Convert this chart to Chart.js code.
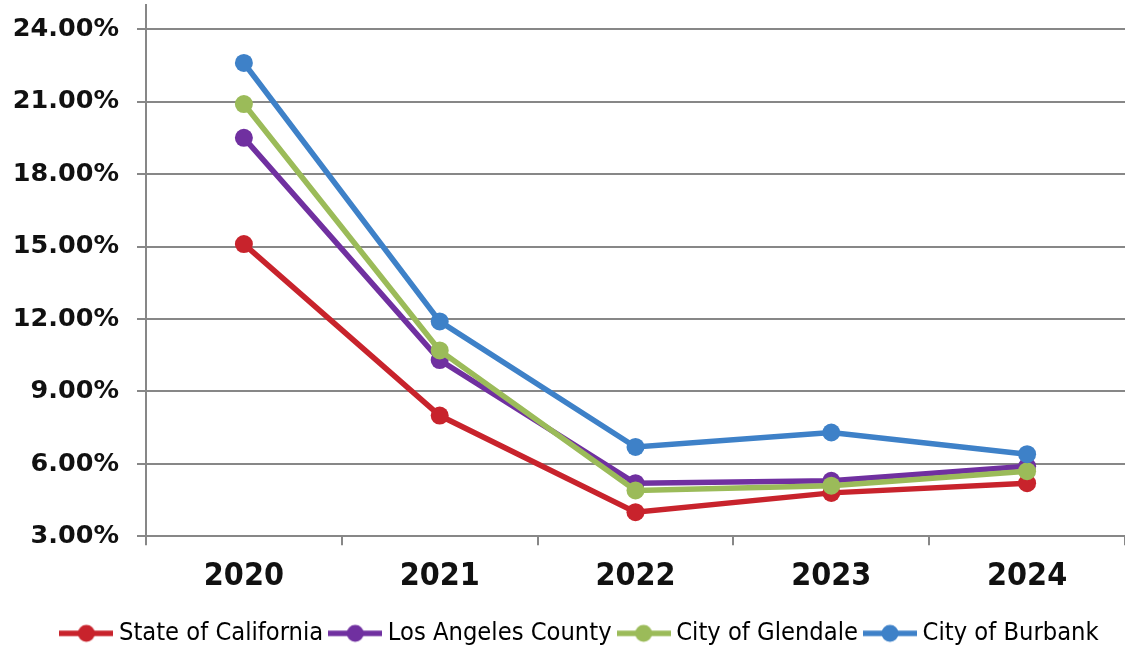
<!DOCTYPE html>
<html>
<head>
<meta charset="utf-8">
<script src="https://cdn.jsdelivr.net/npm/chart.js@4"></script>
<style>
  html, body { margin: 0; padding: 0; background: #fff; }
  #wrap { width: 1125px; height: 647px; }
</style>
</head>
<body>
<div id="wrap"><canvas id="grafico" width="1125" height="647"></canvas></div>
<script>
// Dados
const anos = ['2020', '2021', '2022', '2023', '2024'];
const series = ['State of California', 'Los Angeles County', 'City of Glendale', 'City of Burbank'];
const california = [15.1, 8.0, 4.0, 4.8, 5.2];
const losAngeles = [19.5, 10.3, 5.2, 5.3, 5.9];
const glendale = [20.9, 10.7, 4.9, 5.1, 5.7];
const burbank = [22.6, 11.9, 6.7, 7.3, 6.4];
const ticksY = [3, 6, 9, 12, 15, 18, 21, 24];

const cores = ['#C8232C', '#7030A0', '#9BBB59', '#3E81C8'];
const valores = [california, losAngeles, glendale, burbank];
const cinza = '#878787';

// Ícone da legenda: linha com marcador
function iconeLegenda(cor) {
  const c = document.createElement('canvas');
  c.width = 54;
  c.height = 20;
  const g = c.getContext('2d');
  g.strokeStyle = cor;
  g.lineWidth = 5.5;
  g.beginPath();
  g.moveTo(0, 10);
  g.lineTo(54, 10);
  g.stroke();
  g.fillStyle = cor;
  g.beginPath();
  g.arc(27, 10, 8.5, 0, Math.PI * 2);
  g.fill();
  return c;
}
const icones = cores.map(iconeLegenda);

// Ajusta a posição da legenda, como no original
const moverLegenda = {
  id: 'moverLegenda',
  afterLayout(chart) {
    chart.legend.left += 20;
    chart.legend.right += 20;
    chart.legend.top += 9;
    chart.legend.bottom += 9;
  }
};

const ctx = document.getElementById('grafico').getContext('2d');

new Chart(ctx, {
  type: 'line',
  data: {
    labels: anos,
    datasets: series.map((nome, i) => ({
      label: nome,
      data: valores[i],
      borderColor: cores[i],
      backgroundColor: cores[i],
      borderWidth: 5.5,
      pointRadius: 9,
      pointHoverRadius: 9,
      pointBorderWidth: 0,
      tension: 0,
      order: series.length - i
    }))
  },
  options: {
    responsive: false,
    animation: false,
    layout: { autoPadding: false, padding: { left: 0, right: 0, top: 5, bottom: 0 } },
    scales: {
      x: {
        offset: true,
        afterFit: scale => {
          scale.paddingLeft = 0;
          scale.paddingRight = 0;
          scale.height -= 8;
        },
        grid: {
          offset: true,
          drawOnChartArea: false,
          color: cinza,
          lineWidth: 2,
          tickLength: 9
        },
        border: { color: cinza, width: 2 },
        ticks: {
          color: '#111',
          padding: 12,
          font: { family: "'DejaVu Sans Condensed'", size: 32, weight: 'bold' }
        }
      },
      y: {
        min: 3,
        max: 25,
        afterBuildTicks: scale => {
          scale.ticks = ticksY.map(v => ({ value: v }));
        },
        afterFit: scale => {
          scale.width = 146;
          scale.paddingTop = 0;
          scale.paddingBottom = 0;
        },
        grid: { color: cinza, lineWidth: 2, tickLength: 9 },
        border: { color: cinza, width: 2 },
        ticks: {
          color: '#111',
          padding: 18,
          font: { family: "'DejaVu Sans'", size: 25.5, weight: 'bold' },
          callback: v => v.toFixed(2) + '%'
        }
      }
    },
    plugins: {
      legend: {
        position: 'bottom',
        labels: {
          usePointStyle: true,
          pointStyleWidth: 40,
          padding: 12,
          color: '#1a1a1a',
          font: { family: "'DejaVu Sans Condensed'", size: 25.25 },
          generateLabels: chart => chart.data.datasets.map((ds, i) => ({
            text: ds.label,
            pointStyle: icones[i],
            fillStyle: cores[i],
            strokeStyle: cores[i],
            lineWidth: 0,
            hidden: false,
            datasetIndex: i
          }))
        }
      },
      tooltip: { enabled: false }
    }
  },
  plugins: [moverLegenda]
});
</script>
</body>
</html>
